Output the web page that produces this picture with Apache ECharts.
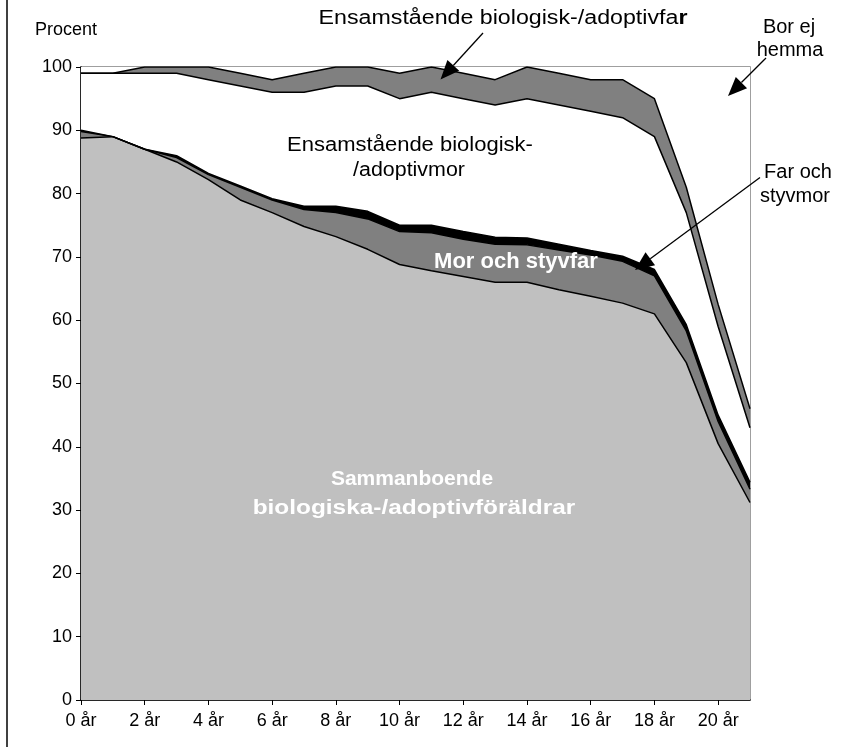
<!DOCTYPE html>
<html><head><meta charset="utf-8">
<script src="https://cdn.jsdelivr.net/npm/echarts@6/dist/echarts.min.js"></script>
<style>html,body{margin:0;padding:0;background:#fff}#c{width:867px;height:747px}</style>
</head><body><div id="c"></div>
<script>
const categories = ['0 år','1 år','2 år','3 år','4 år','5 år','6 år','7 år','8 år','9 år','10 år','11 år','12 år','13 år','14 år','15 år','16 år','17 år','18 år','19 år','20 år','21 år'];
const sammanboende = [88.8,89,87,85,82.2,79,77,74.8,73.2,71.2,68.8,67.8,66.9,66,66,64.8,63.8,62.7,61,53.3,40.5,31.2];
const morStyvfar   = [1.0,0,0,0.7,0.8,2,2,2.7,3.8,4.8,5.2,6,5.9,6,5.9,6.3,6.5,6.6,6,5,3.5,2.1];
const farStyvmor   = [0.2,0,0,0.3,0.2,0.2,0.2,0.5,1,1.2,1,1.2,1.2,1.1,1.1,0.9,0.7,0.8,1,1,1,1.1];
const ensamMor     = [9,10,12,13,14.8,15.8,16.8,18,19,19.8,20,21,21,20.9,22,22,22,21.9,21,17.7,14,8.6];
const ensamFar     = [0,0,1,1,2,2,2,3,3,3,4,4,4,4,5,5,5,6,6,4,3.5,3];
const borEjHemma   = [1,1,0,0,0,1,2,1,0,0,1,0,1,2,0,1,2,2,5,19,37.5,54];
const yTicks = [0,10,20,30,40,50,60,70,80,90,100];

const FONT = '"Liberation Sans", Arial, sans-serif';
const layers = [
  {name:'Sammanboende', data: sammanboende, color:'#c0c0c0'},
  {name:'Mor och styvfar', data: morStyvfar, color:'#808080'},
  {name:'Far och styvmor', data: farStyvmor, color:'#000000'},
  {name:'Ensamstående mor', data: ensamMor, color:'#ffffff'},
  {name:'Ensamstående far', data: ensamFar, color:'#808080'},
  {name:'Bor ej hemma', data: borEjHemma, color:'#ffffff'}
];
const series = [];
layers.forEach(l => series.push({
  name: l.name, type:'line', stack:'area', data:l.data, symbol:'none', z:2,
  lineStyle:{width:0}, areaStyle:{color:l.color, opacity:1}, silent:true
}));
layers.slice(0,5).forEach(l => series.push({
  name: l.name+'_line', type:'line', stack:'lines', data:l.data, symbol:'none', z:3,
  lineStyle:{width:1.5, color:'#000'}, silent:true
}));

function arrow(x1,y1,tx,ty){
  const dx=tx-x1, dy=ty-y1, len=Math.hypot(dx,dy), ux=dx/len, uy=dy/len;
  const bx=tx-19*ux, by=ty-19*uy, nx=-uy*8, ny=ux*8;
  return [
    {type:'line', shape:{x1:x1,y1:y1,x2:bx,y2:by}, style:{stroke:'#000', lineWidth:1.3}, z:10},
    {type:'polygon', shape:{points:[[tx,ty],[bx+nx,by+ny],[bx-nx,by-ny]]}, style:{fill:'#000'}, z:10}
  ];
}
function txt(x,y,t,opts,sx){
  return {type:'text', x:x, y:y, z:11, scaleX: sx||1, style:Object.assign({text:t, font:'20px '+FONT, fill:'#000', textAlign:'center', textVerticalAlign:'middle'}, opts||{})};
}

const chart = echarts.init(document.getElementById('c'), null, {renderer:'canvas'});
chart.setOption({
  backgroundColor:'#fff',
  animation:false,
  grid:{left:81, right:117, top:67, bottom:47, show:true, borderColor:'#808080', borderWidth:1.5, backgroundColor:'#fff'},
  xAxis:{type:'category', data:categories, boundaryGap:false,
    axisLine:{lineStyle:{color:'#000', width:1.5}},
    axisTick:{interval:1, length:5, lineStyle:{color:'#000'}},
    axisLabel:{interval:1, color:'#000', fontSize:18, fontFamily:FONT, margin:12},
    splitLine:{show:false}},
  yAxis:{type:'value', min:0, max:100, interval:10,
    axisLine:{show:true, lineStyle:{color:'#000', width:1.5}},
    axisTick:{show:true, length:5, lineStyle:{color:'#000'}},
    axisLabel:{color:'#000', fontSize:18, fontFamily:FONT, margin:9, formatter: v => yTicks.includes(v) ? String(v) : ''},
    splitLine:{show:false}},
  series: series,
  graphic: [
    {type:'line', shape:{x1:7,y1:0,x2:7,y2:747}, style:{stroke:'#000', lineWidth:1.5}},
    txt(66,30,'Procent',{font:'18px '+FONT}),
    {type:'text', x:503, y:18, z:11, scaleX:1.16, style:{
      text:'{a|Ensamstående biologisk-/adoptivfa}{b|r}', textAlign:'center', textVerticalAlign:'middle',
      rich:{a:{font:'20px '+FONT, fill:'#000'}, b:{font:'bold 20px '+FONT, fill:'#000'}}}},
    txt(789,27,'Bor ej'),
    txt(790,50,'hemma'),
    txt(410,145,'Ensamstående biologisk-',null,1.1),
    txt(409,170,'/adoptivmor',null,1.07),
    txt(798,172,'Far och'),
    txt(795,196,'styvmor'),
    txt(516,262,'Mor och styvfar',{font:'bold 22px '+FONT, fill:'#fff'}),
    txt(412,479,'Sammanboende',{font:'bold 21px '+FONT, fill:'#fff'}),
    txt(414,508,'biologiska-/adoptivföräldrar',{font:'bold 20px '+FONT, fill:'#fff'},1.22),
    ...arrow(483,33,440.5,79.5),
    ...arrow(766,58,728,96),
    ...arrow(760,177.5,635,270)
  ]
});
</script></body></html>
